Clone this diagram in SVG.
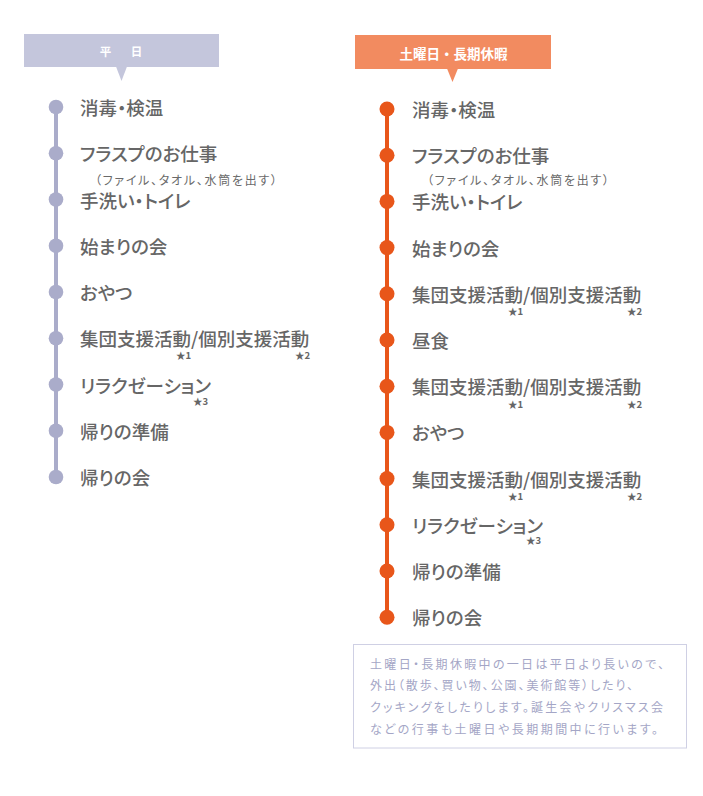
<svg xmlns="http://www.w3.org/2000/svg" width="703" height="796" viewBox="0 0 703 796">
<style>
.main{font-family:"Noto Sans CJK JP","Noto Sans",sans-serif;font-size:18.5px;font-weight:500;fill:#666666;font-feature-settings:"palt";}
.sub{font-family:"Noto Sans CJK JP","Noto Sans",sans-serif;font-size:12px;fill:#6a6a6a;font-feature-settings:"palt";}
.star{font-family:"Noto Sans CJK JP","Noto Sans",sans-serif;font-size:9.5px;font-weight:bold;fill:#666666;text-anchor:end;}
.hd{font-family:"Noto Sans CJK JP","Noto Sans",sans-serif;font-weight:bold;fill:#ffffff;text-anchor:middle;}
.note{font-family:"Noto Sans CJK JP","Noto Sans",sans-serif;font-size:12px;fill:#a4a6c6;font-feature-settings:"palt";}
.dl{fill:#aaacca;}
.dr{fill:#e8561a;}
</style>
<rect width="703" height="796" fill="#ffffff"/>
<g id="header-weekday">
<rect x="24" y="34" width="195" height="33" fill="#c4c6dc"/>
<polygon points="116,66.5 127,66.5 121.5,81" fill="#c4c6dc"/>
<text class="hd" x="123" y="55.7" font-size="11.5" letter-spacing="4">平　日</text>
</g>
<g id="header-holiday">
<rect x="355" y="35" width="196" height="34" fill="#f28b60"/>
<polygon points="447,68.5 458,68.5 452.5,82" fill="#f28b60"/>
<text class="hd" x="453.5" y="58.8" font-size="13.5">土曜日・長期休暇</text>
</g>
<g id="connectors">
<line x1="56" y1="107" x2="56" y2="477" stroke="#aaacca" stroke-width="4"/>
<line x1="387" y1="109" x2="387" y2="617" stroke="#e8561a" stroke-width="4"/>
</g>
<g id="weekday">
<g id="w1"><circle class="dl" cx="56" cy="107" r="7.3"/><text class="main" x="80" y="115">消毒・検温</text></g>
<g id="w2"><circle class="dl" cx="56" cy="153.25" r="7.3"/><text class="main" x="80" y="161.25">フラスプのお仕事</text><text class="sub" x="95" y="184.5" textLength="182" lengthAdjust="spacing">（ファイル、タオル、水筒を出す）</text></g>
<g id="w3"><circle class="dl" cx="56" cy="199.5" r="7.3"/><text class="main" x="80" y="207.5">手洗い・トイレ</text></g>
<g id="w4"><circle class="dl" cx="56" cy="245.75" r="7.3"/><text class="main" x="80" y="253.75">始まりの会</text></g>
<g id="w5"><circle class="dl" cx="56" cy="292" r="7.3"/><text class="main" x="80" y="300">おやつ</text></g>
<g id="w6"><circle class="dl" cx="56" cy="338.25" r="7.3"/><text class="main" x="80" y="346.25">集団支援活動/個別支援活動</text><text class="star" x="191" y="359">★1</text><text class="star" x="310" y="359">★2</text></g>
<g id="w7"><circle class="dl" cx="56" cy="384.5" r="7.3"/><text class="main" x="80" y="392.5">リラクゼーション</text><text class="star" x="208" y="404.5">★3</text></g>
<g id="w8"><circle class="dl" cx="56" cy="430.75" r="7.3"/><text class="main" x="80" y="438.75">帰りの準備</text></g>
<g id="w9"><circle class="dl" cx="56" cy="477" r="7.3"/><text class="main" x="80" y="485">帰りの会</text></g>
</g>
<g id="holiday">
<g id="h1"><circle class="dr" cx="387" cy="109" r="7.5"/><text class="main" x="412" y="117">消毒・検温</text></g>
<g id="h2"><circle class="dr" cx="387" cy="155.2" r="7.5"/><text class="main" x="412" y="163.2">フラスプのお仕事</text><text class="sub" x="427" y="184.5" textLength="182" lengthAdjust="spacing">（ファイル、タオル、水筒を出す）</text></g>
<g id="h3"><circle class="dr" cx="387" cy="201.4" r="7.5"/><text class="main" x="412" y="209.4">手洗い・トイレ</text></g>
<g id="h4"><circle class="dr" cx="387" cy="247.6" r="7.5"/><text class="main" x="412" y="255.6">始まりの会</text></g>
<g id="h5"><circle class="dr" cx="387" cy="293.8" r="7.5"/><text class="main" x="412" y="301.8">集団支援活動/個別支援活動</text><text class="star" x="523" y="315">★1</text><text class="star" x="642" y="315">★2</text></g>
<g id="h6"><circle class="dr" cx="387" cy="340" r="7.5"/><text class="main" x="412" y="348">昼食</text></g>
<g id="h7"><circle class="dr" cx="387" cy="386.2" r="7.5"/><text class="main" x="412" y="394.2">集団支援活動/個別支援活動</text><text class="star" x="523" y="407.5">★1</text><text class="star" x="642" y="407.5">★2</text></g>
<g id="h8"><circle class="dr" cx="387" cy="432.4" r="7.5"/><text class="main" x="412" y="440.4">おやつ</text></g>
<g id="h9"><circle class="dr" cx="387" cy="478.6" r="7.5"/><text class="main" x="412" y="486.6">集団支援活動/個別支援活動</text><text class="star" x="523" y="500">★1</text><text class="star" x="642" y="500">★2</text></g>
<g id="h10"><circle class="dr" cx="387" cy="524.8" r="7.5"/><text class="main" x="412" y="532.8">リラクゼーション</text><text class="star" x="541" y="544">★3</text></g>
<g id="h11"><circle class="dr" cx="387" cy="571" r="7.5"/><text class="main" x="412" y="579">帰りの準備</text></g>
<g id="h12"><circle class="dr" cx="387" cy="617.2" r="7.5"/><text class="main" x="412" y="625.2">帰りの会</text></g>
</g>
<g id="note">
<rect x="353.5" y="644.5" width="333" height="103.5" fill="none" stroke="#cfd0e4" stroke-width="1"/>
<text class="note" x="370" y="668.5" textLength="294" lengthAdjust="spacing">土曜日・長期休暇中の一日は平日より長いので、</text>
<text class="note" x="370" y="689.5" textLength="263" lengthAdjust="spacing">外出（散歩、買い物、公園、美術館等）したり、</text>
<text class="note" x="370" y="711.5" textLength="293" lengthAdjust="spacing">クッキングをしたりします。誕生会やクリスマス会</text>
<text class="note" x="370" y="733.5" textLength="288" lengthAdjust="spacing">などの行事も土曜日や長期期間中に行います。</text>
</g>
</svg>
